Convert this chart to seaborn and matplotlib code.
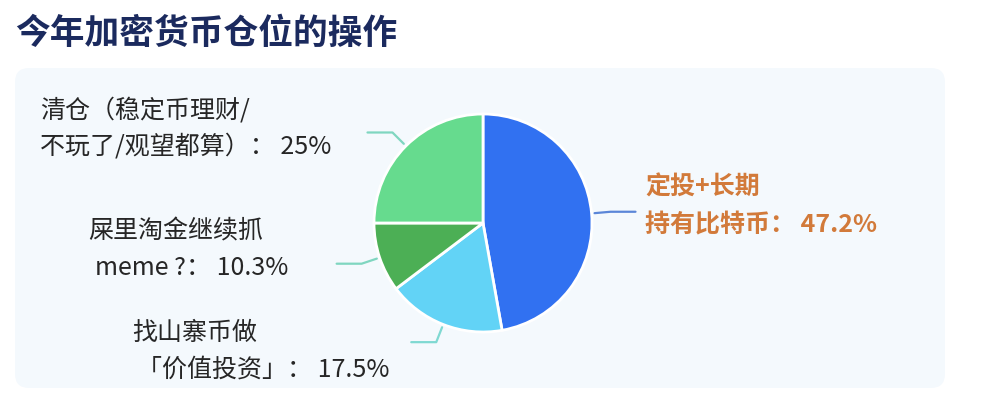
import numpy as np
import matplotlib
matplotlib.use("Agg")
import matplotlib.pyplot as plt
import seaborn as sns
from matplotlib.patches import FancyBboxPatch

# ---- data ----
title = "今年加密货币仓位的操作"
categories = ["定投+长期持有比特币", "找山寨币做「价值投资」", "屎里淘金继续抓meme ?", "清仓（稳定币理财/不玩了/观望都算）"]
values = [47.2, 17.5, 10.3, 25.0]
label_lines = [
    ["定投+长期", "持有比特币： 47.2%"],
    ["找山寨币做", "「价值投资」： 17.5%"],
    ["屎里淘金继续抓", "meme ?： 10.3%"],
    ["清仓（稳定币理财/", "不玩了/观望都算）： 25%"],
]
slice_colors = ["#3171f1", "#62d3f6", "#4caf55", "#66db8e"]
line_colors = ["#5b86d8", "#7fd9d2", "#7fd6c0", "#7fd6c0"]
text_colors = ["#d27a3a", "#262626", "#262626", "#262626"]
text_weights = ["bold", "medium", "medium", "medium"]

sns.set_theme(style="white")
plt.rcParams["font.family"] = ["Noto Sans CJK SC", "DejaVu Sans"]

W, H = 1000, 401
fig = plt.figure(figsize=(W / 100, H / 100), dpi=100)
fig.patch.set_facecolor("white")
ax = fig.add_axes([0, 0, 1, 1])

def Y(y):
    return H - y

# background panel
panel = FancyBboxPatch((15, Y(388)), 930, 320, boxstyle="round,pad=0,rounding_size=14",
                       facecolor="#f4f9fd", edgecolor="none", zorder=0)
ax.add_patch(panel)

cx, cy, r = 483, 223, 109
wedges, _ = ax.pie(values, colors=slice_colors, startangle=90, counterclock=False,
                   center=(cx, Y(cy)), radius=r, frame=True,
                   wedgeprops=dict(edgecolor="white", linewidth=2))
for w in wedges:
    w.set_zorder(2)

# leader lines
for w, lc in zip(wedges, line_colors):
    ang = np.deg2rad((w.theta1 + w.theta2) / 2)
    ux, uy = np.cos(ang), np.sin(ang)
    x1, y1 = cx + (r + 3) * ux, Y(cy) + (r + 3) * uy
    x2, y2 = cx + (r + 19) * ux, Y(cy) + (r + 19) * uy
    x3 = x2 + (25 if ux > 0 else -25)
    ax.plot([x1, x2, x3], [y1, y2, y2], color=lc, lw=1.6, zorder=1,
            solid_capstyle="round", solid_joinstyle="round")

# label layout (x, y per line)
label_pos = [
    [(645, 188), (645, 225)],
    [(132, 333), (137, 370)],
    [(88, 231), (95, 268)],
    [(40, 110), (40, 146)],
]
for lines, poss, tc, fw in zip(label_lines, label_pos, text_colors, text_weights):
    for txt, (x, y) in zip(lines, poss):
        ax.text(x, Y(y), txt, fontsize=18, color=tc, ha="left", va="center",
                fontweight=fw, zorder=3)

ax.text(15, Y(33), title, fontsize=25, fontweight="bold", color="#1b2a5e",
        ha="left", va="center", zorder=3)

ax.set_xlim(0, W)
ax.set_ylim(0, H)
ax.set_aspect("equal")
ax.axis("off")

fig.savefig("out.png", dpi=100, facecolor="white")
